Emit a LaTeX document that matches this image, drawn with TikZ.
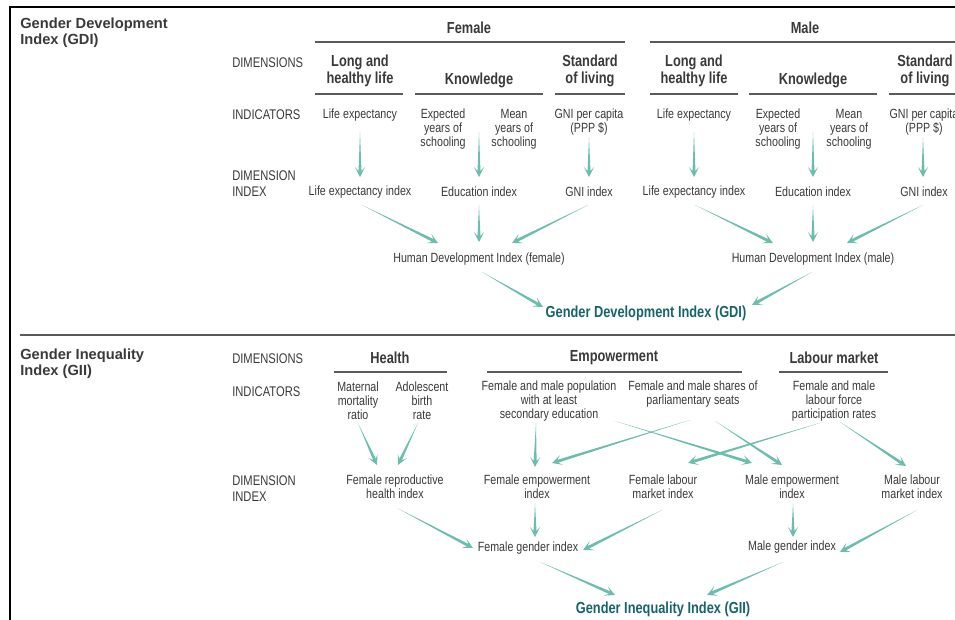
\documentclass[tikz,border=0pt]{standalone}
\usepackage{fontspec}
\setmainfont{Liberation Sans}[FakeStretch=0.8]
\newfontfamily\titlefont{Liberation Sans}
\usetikzlibrary{calc}
\definecolor{tgray}{HTML}{3A3A3A}
\definecolor{arrowc}{HTML}{6BBDAE}
\definecolor{titleteal}{HTML}{17646B}
\definecolor{rulec}{HTML}{5A5A5A}
\newcommand{\tarrow}[6]{%
  \path ([shift={(#2,#3)}]#1.center) coordinate (tA) ([shift={(#5,#6)}]#4.center) coordinate (tB);
  \fill[arrowc] let \p1=(tA), \p2=(tB), \n1={atan2(\y2-\y1,\x2-\x1)} in
    (\p1) -- ($(\p2)+(\n1:-4.5pt)+(\n1+90:1.1pt)$) -- ($(\p2)+(\n1:-7.5pt)+(\n1+90:3.8pt)$)
    -- (\p2) -- ($(\p2)+(\n1:-7.5pt)+(\n1-90:3.8pt)$) -- ($(\p2)+(\n1:-4.5pt)+(\n1-90:1.1pt)$) -- cycle;}
\tikzset{
  txt/.style={font=\fontsize{10}{10.5}\selectfont, text=tgray, align=center, inner sep=0pt},
  hdr/.style={font=\fontsize{12}{12.75}\selectfont\bfseries, text=tgray, align=center, inner sep=0pt},
  lbl/.style={font=\fontsize{10.5}{12}\selectfont, text=tgray, align=left, anchor=west, inner sep=0pt},
  result/.style={font=\fontsize{12}{14}\selectfont\bfseries, text=titleteal, inner sep=0pt},
  sectitle/.style={font=\titlefont\bfseries\fontsize{11}{12}\selectfont, text=tgray, align=left, anchor=west, inner sep=0pt},
  hline/.style={draw=rulec, line width=0.9pt},
}
\begin{document}
\begin{tikzpicture}[x={(0.75pt,0)}, y={(0,-0.75pt)}]
\clip (0,0) rectangle (955,619);
\fill[white] (0,0) rectangle (955,619);
% frame and divider
\draw[black, line width=1.1pt] (10,625) -- (10,7) -- (965,7);
\draw[rulec, line width=1.6pt] (20,335) -- (965,335);

% ---------------- GDI ----------------
\node[sectitle] (gdititle) at (20,33) {Gender Development\\Index (GDI)};
\node[lbl] (ldim) at (232,63) {DIMENSIONS};
\node[lbl] (lind) at (232,115) {INDICATORS};
\node[lbl] (ldi) at (232,184) {DIMENSION\\INDEX};

\node[hdr] (female) at (469,28) {Female};
\node[hdr] (male) at (805,28) {Male};
\draw[hline] (315,42) -- (625,42);
\draw[hline] (650,42) -- (965,42);

\node[hdr] (flong) at (360,71) {Long and\\healthy life};
\node[hdr] (fknow) at (479,80) {Knowledge};
\node[hdr] (fstd) at (590,71) {Standard\\of living};
\node[hdr] (mlong) at (694,71) {Long and\\healthy life};
\node[hdr] (mknow) at (813,80) {Knowledge};
\node[hdr] (mstd) at (925,71) {Standard\\of living};
\draw[hline] (315,94) -- (403,94);
\draw[hline] (415,94) -- (543,94);
\draw[hline] (555,94) -- (625,94);
\draw[hline] (650,94) -- (738,94);
\draw[hline] (749,94) -- (877,94);
\draw[hline] (889,94) -- (965,94);

\node[txt] (fle) at (360,115) {Life expectancy};
\node[txt] (fexp) at (443,129) {Expected\\years of\\schooling};
\node[txt] (fmean) at (514,129) {Mean\\years of\\schooling};
\node[txt] (fgni) at (589,122) {GNI per capita\\(PPP \$)};
\node[txt] (mle) at (694,115) {Life expectancy};
\node[txt] (mexp) at (778,129) {Expected\\years of\\schooling};
\node[txt] (mmean) at (849,129) {Mean\\years of\\schooling};
\node[txt] (mgni) at (924,122) {GNI per capita\\(PPP \$)};

\node[txt] (flei) at (360,192) {Life expectancy index};
\node[txt] (fedu) at (479,192) {Education index};
\node[txt] (fgnii) at (589,192) {GNI index};
\node[txt] (mlei) at (694,192) {Life expectancy index};
\node[txt] (medu) at (813,192) {Education index};
\node[txt] (mgnii) at (924,192) {GNI index};

\node[txt] (hdif) at (479,259) {Human Development Index (female)};
\node[txt] (hdim) at (813,259) {Human Development Index (male)};
\node[result] (gdi) at (646,313) {Gender Development Index (GDI)};

\tarrow{fle}{0}{17}{flei}{0}{-15}
\tarrow{fexp}{36}{3}{fedu}{0}{-15}
\tarrow{fgni}{0}{15}{fgnii}{0}{-15}
\tarrow{mle}{0}{17}{mlei}{0}{-15}
\tarrow{mexp}{35}{3}{medu}{0}{-15}
\tarrow{mgni}{-1}{15}{mgnii}{-1}{-15}

\tarrow{flei}{2}{13}{hdif}{-41}{-16}
\tarrow{fedu}{0}{13}{hdif}{0}{-17}
\tarrow{fgnii}{-1}{13}{hdif}{33}{-16}
\tarrow{mlei}{1}{13}{hdim}{-40}{-16}
\tarrow{medu}{0}{13}{hdim}{0}{-17}
\tarrow{mgnii}{-1}{13}{hdim}{34}{-16}
\tarrow{hdif}{3}{13}{gdi}{-103}{-6}
\tarrow{hdim}{-1}{13}{gdi}{106}{-8}

% ---------------- GII ----------------
\node[sectitle] (giititle) at (20,364) {Gender Inequality\\Index (GII)};
\node[lbl] (gdim) at (232,359) {DIMENSIONS};
\node[lbl] (gind) at (232,392) {INDICATORS};
\node[lbl] (gdi2) at (232,489) {DIMENSION\\INDEX};

\node[hdr] (health) at (390,358) {Health};
\node[hdr] (empow) at (614,358) {Empowerment};
\node[hdr] (labour) at (834,358) {Labour market};
\draw[hline] (334,372) -- (447,372);
\draw[hline] (487,372) -- (742,372);
\draw[hline] (779,372) -- (888,372);

\node[txt] (mat) at (358,401) {Maternal\\mortality\\ratio};
\node[txt] (adol) at (422,401) {Adolescent\\birth\\rate};
\node[txt] (pop) at (549,401) {Female and male population\\with at least\\secondary education};
\node[txt] (parl) at (693,394) {Female and male shares of\\parliamentary seats};
\node[txt] (lab) at (834,401) {Female and male\\labour force\\participation rates};

\node[txt] (frep) at (395,487) {Female reproductive\\health index};
\node[txt] (femp) at (537,487) {Female empowerment\\index};
\node[txt] (flab) at (663,487) {Female labour\\market index};
\node[txt] (memp) at (792,487) {Male empowerment\\index};
\node[txt] (mlab) at (912,487) {Male labour\\market index};

\node[txt] (fgen) at (528,548) {Female gender index};
\node[txt] (mgen) at (792,547) {Male gender index};
\node[result] (gii) at (663,609) {Gender Inequality Index (GII)};

\tarrow{mat}{0}{22}{frep}{-18}{-22}
\tarrow{adol}{-4}{22}{frep}{3}{-22}
\tarrow{pop}{-13}{22}{femp}{-2}{-20}
\tarrow{pop}{66}{20}{memp}{-40}{-24}
\tarrow{parl}{-3}{26}{femp}{15}{-24}
\tarrow{parl}{22}{27}{memp}{-10}{-22}
\tarrow{lab}{-11}{21}{flab}{25}{-24}
\tarrow{lab}{6}{21}{mlab}{-6}{-21}
\tarrow{frep}{2}{21}{fgen}{-55}{0}
\tarrow{femp}{-2}{16}{fgen}{7}{-11}
\tarrow{flab}{-1}{23}{fgen}{55}{2}
\tarrow{memp}{1}{16}{mgen}{1}{-10}
\tarrow{mlab}{5}{23}{mgen}{48}{5}
\tarrow{fgen}{12}{14}{gii}{-48}{-14}
\tarrow{mgen}{-9}{15}{gii}{44}{-14}
\end{tikzpicture}
\end{document}
